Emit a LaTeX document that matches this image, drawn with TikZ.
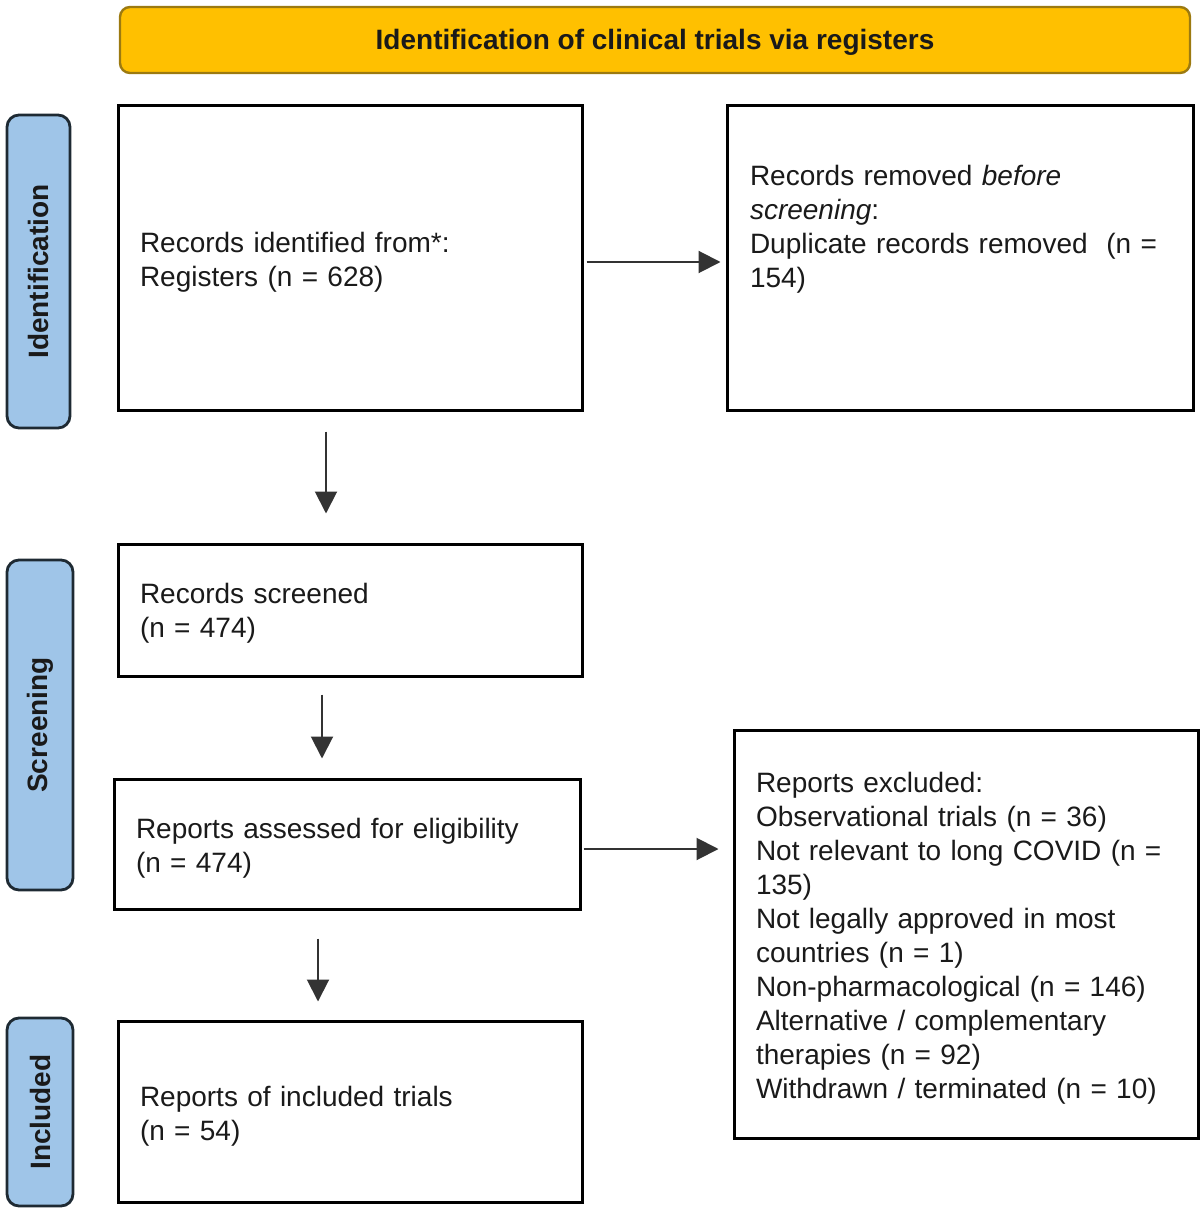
\documentclass[tikz,border=0pt]{standalone}
\usepackage{fontspec}
\setmainfont{Liberation Sans}
\usetikzlibrary{arrows.meta,positioning}
\definecolor{hdrfill}{HTML}{FFC000}
\definecolor{hdrdraw}{HTML}{9C7A10}
\definecolor{sidefill}{HTML}{9FC5E8}
\definecolor{sidedraw}{HTML}{1E2A33}
\definecolor{txtc}{HTML}{1A1A1A}
\definecolor{arrc}{HTML}{333333}
\begin{document}
\begin{tikzpicture}[x=0.5pt,y=-0.5pt,
  every node/.style={font=\fontsize{14pt}{17pt}\selectfont, text=txtc},
  box/.style={draw=black, line width=1.5pt, fill=white, inner sep=0pt},
  boxtext/.style={align=left, inner xsep=11pt, inner ysep=0pt},
  hdr/.style={draw=hdrdraw, line width=1.2pt, fill=hdrfill, rounded corners=5pt, font=\fontsize{14pt}{17pt}\selectfont\bfseries, minimum width=535pt, minimum height=33pt},
  side/.style={draw=sidedraw, line width=1.4pt, fill=sidefill, rounded corners=6pt, font=\fontsize{14pt}{17pt}\selectfont\bfseries},
  arr/.style={draw=arrc, line width=1pt, -{Triangle[length=11pt,width=11pt]}}
]
\useasboundingbox (0,0) rectangle (1203,1224);

% header
\node[hdr] (hdr) at (655,40) {};
\node[font=\fontsize{14pt}{17pt}\selectfont\bfseries] (hdrt) at ([yshift=-1pt]hdr.center) {Identification of clinical trials via registers};

% side labels
\node[side, minimum width=156.5pt, minimum height=31.5pt, rotate=90] (sid) at (38.5,271.5) {Identification};
\node[side, minimum width=165pt, minimum height=33pt, rotate=90] (sscr) at (40,725) {Screening};
\node[side, minimum width=94pt, minimum height=33pt, rotate=90] (sinc) at (40,1112) {Included};

% boxes
\node[box, minimum width=232pt, minimum height=152.5pt] (b1) at (350,258.5) {};
\node[boxtext, text width=210pt] (b1t) at ([yshift=-2pt]b1.center)
  {Records identified from*:\\Registers (n = 628)};

\node[box, minimum width=233pt, minimum height=152.5pt] (b2) at (960,258.5) {};
\node[boxtext, text width=211pt] (b2t) at (961,229)
  {Records removed \textit{before}\\\textit{screening}:\\Duplicate records removed\ \ (n =\\154)};

\node[box, minimum width=232pt, minimum height=66pt] (b3) at (350,610) {};
\node[boxtext, text width=210pt] (b3t) at ([yshift=-1.75pt]b3.center)
  {Records screened\\(n = 474)};

\node[box, minimum width=233pt, minimum height=65pt] (b4) at (347,844) {};
\node[boxtext, text width=211pt] (b4t) at ([yshift=-2pt]b4.center)
  {Reports assessed for eligibility\\(n = 474)};

\node[box, minimum width=232pt, minimum height=204pt] (b5) at (966,934) {};
\node[boxtext, text width=210pt] (b5t) at ([yshift=-2.25pt]b5.center)
  {Reports excluded:\\Observational trials (n = 36)\\Not relevant to long COVID (n =\\135)\\Not legally approved in most\\countries (n = 1)\\Non-pharmacological (n = 146)\\Alternative / complementary\\therapies (n = 92)\\Withdrawn / terminated (n = 10)};

\node[box, minimum width=232pt, minimum height=90.5pt] (b6) at (350,1111.5) {};
\node[boxtext, text width=210pt] (b6t) at ([yshift=-2.5pt]b6.center)
  {Reports of included trials\\(n = 54)};

% connectors
\draw[arr, shorten <=1.5pt, shorten >=2.5pt] ([yshift=-1.75pt]b1.east) -- ([yshift=-1.75pt]b1.east -| b2.west);
\draw[arr, shorten <=9.5pt, shorten >=14.5pt] ([xshift=-12pt]b1.south) -- ([xshift=-12pt]b1.south |- b3.north);
\draw[arr, shorten <=8.5pt, shorten >=9.5pt] ([xshift=-14pt]b3.south) -- ([xshift=-14pt]b3.south |- b4.north);
\draw[arr, shorten <=1pt, shorten >=7pt] ([yshift=-2.5pt]b4.east) -- ([yshift=-2.5pt]b4.east -| b5.west);
\draw[arr, shorten <=14pt, shorten >=9pt] ([xshift=-14.5pt]b4.south) -- ([xshift=-14.5pt]b4.south |- b6.north);
\end{tikzpicture}
\end{document}
